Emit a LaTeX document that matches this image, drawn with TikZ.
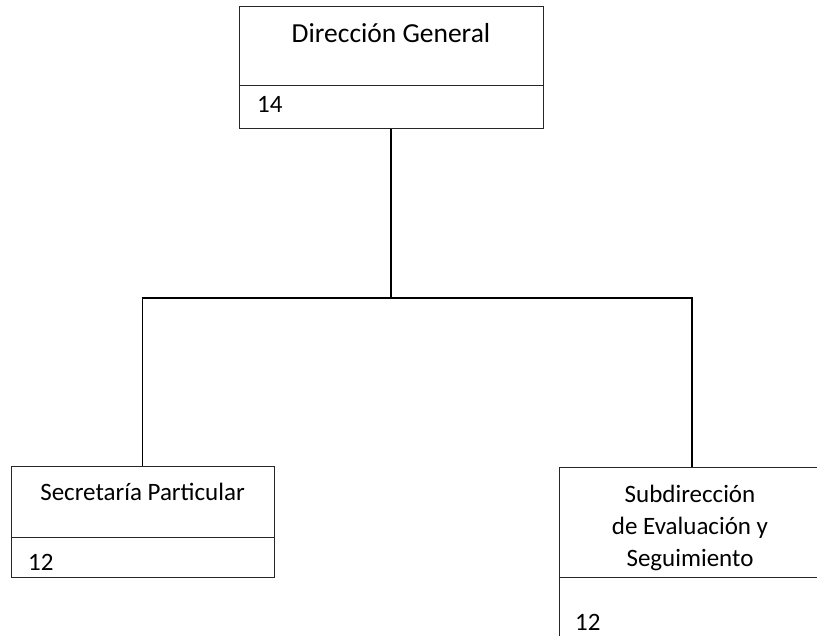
\documentclass[tikz,border=0pt]{standalone}
\usepackage{fontspec}
\setmainfont{Carlito}
\begin{document}
\begin{tikzpicture}[x=1pt,y=-1pt,
  orgbox/.style={draw=black!85,line width=1pt,rectangle,inner sep=0pt},
  divider/.style={draw=black!85,line width=1pt},
  conn/.style={draw=black,line width=1.6pt},
  bigtxt/.style={font=\fontsize{27.5}{33}\selectfont,anchor=base,inner sep=0pt},
  txt/.style={font=\fontsize{25}{32.5}\selectfont,anchor=base,inner sep=0pt,align=center},
  numtxt/.style={font=\fontsize{25}{30}\selectfont,anchor=base west,inner sep=0pt}]
\useasboundingbox (0,0) rectangle (817,636);
\clip (0,0) rectangle (817,636);
% boxes
\node[orgbox,minimum width=304pt,minimum height=122pt] (dg) at (391,68) {};
\node[orgbox,minimum width=263pt,minimum height=111pt] (sp) at (142.5,521.5) {};
\node[orgbox,minimum width=262pt,minimum height=200pt] (se) at (690,567) {};
% dividers
\coordinate (dgl) at (239,86); \coordinate (dgr) at (543,86);
\draw[divider] (dg.west |- dgl) -- (dg.east |- dgr);
\coordinate (spl) at (11,537);
\draw[divider] (sp.west |- spl) -- (sp.east |- spl);
\coordinate (sel) at (559,577);
\draw[divider] (se.west |- sel) -- (se.east |- sel);
% texts
\node[bigtxt] (dgt) at (391,43) {Dirección General};
\node[numtxt] (dgn) at (257,113) {14};
\node[txt] (spt) at (142.5,500) {Secretaría Particular};
\node[numtxt] (spn) at (28,570) {12};
\node[txt,anchor=base] (set1) at (690,502) {Subdirección};
\node[txt,anchor=base] (set2) at (690,534) {de Evaluación y};
\node[txt,anchor=base] (set3) at (690,566) {Seguimiento};
\node[numtxt] (sen) at (575,630) {12};
% connectors
\coordinate (bus) at (391,298);
\coordinate (busl) at (142.5,298);
\coordinate (busr) at (692,298);
\draw[conn] (dg.south) -- (bus);
\draw[conn] (sp.north) -- (busl) -- (busr) -- (busr |- se.north);
\end{tikzpicture}
\end{document}
